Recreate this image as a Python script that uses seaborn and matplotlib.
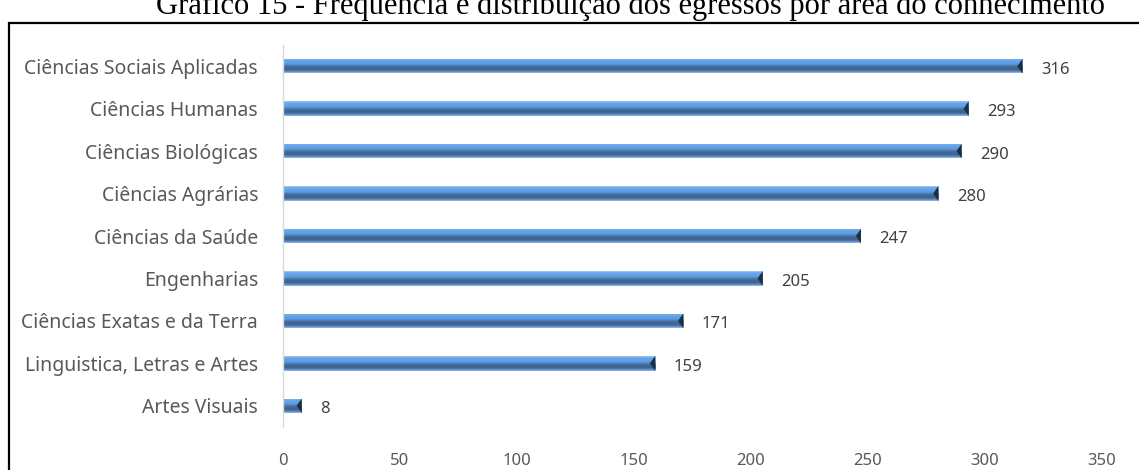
import numpy as np
import matplotlib
matplotlib.use("Agg")
import matplotlib.pyplot as plt
from matplotlib.patches import Rectangle, Polygon
from matplotlib.colors import LinearSegmentedColormap
import seaborn as sns
import pandas as pd

# Data
areas = [
    "Ciências Sociais Aplicadas",
    "Ciências Humanas",
    "Ciências Biológicas",
    "Ciências Agrárias",
    "Ciências da Saúde",
    "Engenharias",
    "Ciências Exatas e da Terra",
    "Linguistica, Letras e Artes",
    "Artes Visuais",
]
egressos = [316, 293, 290, 280, 247, 205, 171, 159, 8]
x_ticks = [0, 50, 100, 150, 200, 250, 300, 350]
title = "Gráfico 15 - Frequência e distribuição dos egressos por área do conhecimento"

df = pd.DataFrame({"area": areas, "egressos": egressos})

sns.set_theme(style="white")
plt.rcParams["font.family"] = ["Noto Sans", "DejaVu Sans"]

W, H = 1139, 470
fig = plt.figure(figsize=(W / 100, H / 100), dpi=100)
ax = fig.add_axes([283 / W, 1 - 427 / H, (1102 - 283) / W, (427 - 45) / H])

sns.barplot(data=df, y="area", x="egressos", orient="h", width=0.34,
            color="#5b9bd5", ax=ax, saturation=1)

# Cylinder-like shading for each bar
shade = LinearSegmentedColormap.from_list("shade", [
    (0.00, "#a9c9ee"),
    (0.10, "#6aa9ea"),
    (0.40, "#5b9ae0"),
    (0.55, "#44709f"),
    (0.75, "#3b5f88"),
    (0.90, "#5a87bd"),
    (1.00, "#9cbde6"),
])
grad = np.linspace(0, 1, 64).reshape(-1, 1)
for p in ax.patches:
    x0, y0, w, h = p.get_x(), p.get_y(), p.get_width(), p.get_height()
    im = ax.imshow(grad, cmap=shade, aspect="auto",
                   extent=[x0, x0 + w, y0 + h, y0], zorder=p.get_zorder() + 0.1)
    im.set_clip_path(p)
    p.set_edgecolor("none")
    # dark end cap
    cap = 2.2
    ax.add_patch(Polygon([[x0 + w - cap, y0 + h * 0.5],
                          [x0 + w, y0], [x0 + w, y0 + h]],
                         closed=True, facecolor="#1c2f45", edgecolor="none",
                         zorder=p.get_zorder() + 0.2))

for i, v in enumerate(egressos):
    ax.text(v + 8, i + 0.08, str(v), va="center", ha="left",
            fontsize=12, color="#404040", fontweight="bold")

ax.set_xlim(0, 350)
ax.set_ylim(len(areas) - 0.5, -0.5)
ax.set_xticks(x_ticks)
ax.set_xticklabels([str(t) for t in x_ticks])
ax.set_xlabel("")
ax.set_ylabel("")
ax.tick_params(axis="x", length=0, pad=19, labelsize=12, labelcolor="#595959")
ax.tick_params(axis="y", length=0, pad=18, labelsize=14, labelcolor="#595959")
for lab in ax.get_xticklabels():
    lab.set_fontweight("bold")
for s in ["top", "right", "bottom"]:
    ax.spines[s].set_visible(False)
ax.spines["left"].set_color("#d9d9d9")
ax.spines["left"].set_linewidth(1.0)
ax.grid(False)

# Outer frame of the figure panel
fig.patches.append(Rectangle((9 / W, -0.1), 1.2, 1 - 23 / H + 0.1,
                             transform=fig.transFigure, fill=False,
                             edgecolor="black", linewidth=1.6))

fig.text(631 / W, 1 - 14 / H, title, ha="center", va="baseline",
         family="Liberation Serif", fontsize=22, color="black")

fig.savefig("out.png", dpi=100)
